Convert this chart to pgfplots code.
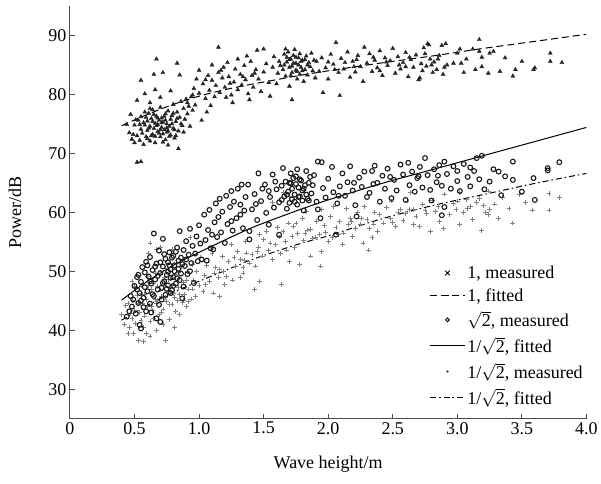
\documentclass[border=0pt]{standalone}
\usepackage{pgfplots}
\pgfplotsset{compat=1.18}
\usepackage{fontspec}
\setmainfont{Liberation Serif}
\newcommand{\fs}{\fontsize{18}{21}\selectfont}
\begin{document}
\begin{tikzpicture}
\begin{axis}[
  width=517pt, height=413pt, scale only axis,
  xmin=0, xmax=4, ymin=25, ymax=95,
  axis lines=left,
  axis line style={-, line width=1.1pt, black!70},
  xtick={0,0.5,1,1.5,2,2.5,3,3.5,4},
  xticklabels={0,0.5,1.0,1.5,2.0,2.5,3.0,3.5,4.0},
  ytick={30,40,50,60,70,80,90},
  tick align=inside,
  major tick length=5pt,
  tick style={line width=0.9pt, black!70},
  /pgf/number format/assume math mode=true,
  tick label style={font=\fs},
  label style={font=\fs},
  xlabel={Wave height/m},
  ylabel={Power/dB},
  xlabel style={at={(axis description cs:0.5,0)}, anchor=center, yshift=-46pt},
  ylabel style={at={(axis description cs:0,0.5)}, anchor=center, yshift=55pt},
  legend style={at={(0.69,0.38)}, anchor=north west, draw=none, fill=none, font=\fs, row sep=4.5pt},
  legend cell align=left,
  legend image code/.code={\draw[mark repeat=2, mark phase=2, #1] plot coordinates {(0pt,0pt) (17.5pt,0pt) (35pt,0pt)};},
]
% 1/sqrt2 measured (gray plus)
\addplot[only marks, mark=+, mark size=2.4pt, line width=0.8pt, black!50, forget plot] table {
0.40 42.6
0.42 41.0
0.43 44.2
0.45 39.4
0.46 40.4
0.47 42.8
0.48 48.3
0.48 45.0
0.49 39.4
0.50 47.4
0.50 43.4
0.51 41.2
0.52 45.9
0.53 38.3
0.54 43.0
0.55 47.6
0.55 41.7
0.56 44.6
0.57 38.1
0.58 46.1
0.58 42.4
0.59 39.4
0.60 44.0
0.60 49.2
0.61 53.1
0.62 54.8
0.62 41.5
0.63 46.9
0.64 43.3
0.65 48.0
0.66 45.2
0.67 39.9
0.67 44.6
0.67 53.7
0.68 47.4
0.69 42.6
0.70 54.0
0.70 49.6
0.71 45.8
0.72 43.6
0.73 47.9
0.74 38.2
0.74 50.5
0.75 44.9
0.76 46.7
0.77 41.8
0.78 48.7
0.79 53.7
0.79 44.3
0.80 46.2
0.81 40.4
0.82 49.4
0.83 45.1
0.84 47.3
0.85 42.6
0.86 50.8
0.87 44.7
0.88 48.1
0.89 46.0
0.90 44.0
0.91 49.9
0.92 47.0
0.93 55.7
0.94 45.3
0.95 51.2
0.96 48.5
0.97 45.7
0.98 50.0
1.00 47.6
1.01 52.4
1.03 46.6
1.04 49.3
1.06 51.0
1.08 48.2
1.10 53.0
1.11 46.3
1.13 50.6
1.15 48.9
1.16 45.7
1.16 50.3
1.18 52.5
1.20 47.8
1.21 49.1
1.23 51.6
1.25 54.5
1.26 48.5
1.28 50.8
1.30 53.4
1.32 52.0
1.32 48.9
1.34 49.7
1.34 50.6
1.36 55.1
1.37 53.1
1.39 51.4
1.41 52.8
1.43 46.9
1.44 50.9
1.46 54.1
1.47 48.3
1.47 56.2
1.49 52.6
1.50 55.4
1.52 56.8
1.54 53.5
1.57 52.0
1.57 61.6
1.59 54.6
1.61 57.4
1.63 53.0
1.64 47.7
1.65 56.8
1.65 63.3
1.67 55.0
1.69 58.2
1.70 51.7
1.70 62.7
1.72 55.9
1.73 57.6
1.74 54.0
1.76 56.4
1.78 51.1
1.80 58.9
1.81 55.2
1.83 60.2
1.84 57.0
1.86 52.6
1.86 57.1
1.88 55.6
1.91 58.5
1.93 56.3
1.94 50.9
1.95 53.4
1.95 60.5
1.97 57.7
2.00 55.0
2.02 59.3
2.03 55.7
2.04 61.0
2.06 57.4
2.09 58.5
2.11 54.6
2.12 56.5
2.14 60.7
2.16 57.9
2.17 59.0
2.19 55.9
2.21 57.3
2.23 60.0
2.25 58.0
2.27 54.8
2.28 61.0
2.30 58.8
2.31 53.6
2.32 57.2
2.34 55.7
2.36 59.9
2.38 56.8
2.40 59.6
2.43 58.2
2.45 60.8
2.48 59.0
2.49 61.9
2.52 57.6
2.54 60.0
2.56 60.5
2.58 58.6
2.61 61.9
2.63 60.5
2.64 63.3
2.66 57.9
2.66 60.5
2.68 59.3
2.71 57.6
2.73 61.3
2.76 59.8
2.79 56.8
2.81 62.0
2.83 60.2
2.86 58.4
2.89 57.3
2.90 63.1
2.94 59.6
2.97 61.5
2.99 60.5
3.02 57.9
3.02 63.3
3.05 59.9
3.07 62.2
3.08 60.7
3.12 58.8
3.15 61.6
3.17 62.3
3.19 56.9
3.22 60.0
3.24 59.6
3.24 63.6
3.25 60.5
3.29 61.4
3.32 58.9
3.35 62.5
3.40 60.6
3.43 58.2
3.48 63.0
3.53 61.7
3.58 60.4
3.71 60.4
3.71 63.2
3.79 62.5
0.53 44.6
0.55 46.2
0.57 40.4
0.59 45.2
0.61 47.6
0.63 44.0
0.65 42.0
0.66 49.6
0.68 45.0
0.70 46.8
0.71 43.0
0.73 49.0
0.74 45.6
0.76 48.6
0.77 44.4
0.79 47.6
0.81 45.6
0.82 43.2
0.84 49.8
0.85 46.0
0.88 45.0
0.90 48.4
0.92 44.8
0.95 47.0
0.72 41.0
0.62 39.0
0.48 42.0
0.45 44.6
1.05 47.8
1.12 49.7
1.19 50.0
1.27 52.3
1.35 51.8
1.45 53.3
1.55 54.8
1.62 55.8
1.68 53.6
1.75 58.2
1.82 56.4
1.90 55.8
1.98 56.6
2.08 56.2
2.18 58.4
2.26 59.0
2.35 58.0
2.50 58.3
2.60 59.8
2.75 60.4
2.85 61.0
3.00 61.9
3.10 61.0
3.20 61.2
};
% sqrt2 measured (open circles)
\addplot[only marks, mark=o, mark size=2.4pt, line width=1.1pt, black!90, forget plot] table {
0.44 42.3
0.46 43.2
0.47 45.8
0.48 44.0
0.49 45.2
0.50 47.5
0.51 42.8
0.52 49.0
0.53 49.4
0.53 44.6
0.54 46.3
0.54 40.9
0.55 40.3
0.55 48.2
0.56 50.7
0.57 45.5
0.58 47.3
0.59 43.2
0.59 51.6
0.60 46.6
0.61 49.1
0.62 44.5
0.62 52.4
0.63 47.9
0.64 50.2
0.65 45.8
0.65 56.4
0.66 48.6
0.67 42.0
0.67 51.3
0.68 46.9
0.69 53.5
0.70 41.4
0.70 49.7
0.71 47.2
0.72 55.5
0.72 50.8
0.73 48.3
0.74 52.1
0.74 46.0
0.75 49.4
0.76 51.5
0.76 47.6
0.77 53.2
0.78 48.9
0.78 50.3
0.79 46.8
0.80 52.6
0.80 49.0
0.81 51.0
0.82 47.9
0.83 54.0
0.84 50.4
0.85 56.8
0.85 48.5
0.86 52.3
0.87 45.4
0.88 53.6
0.89 50.9
0.90 55.1
0.91 49.5
0.92 52.8
0.93 57.2
0.94 51.4
0.95 54.3
0.96 48.0
0.97 53.0
0.98 55.9
0.99 51.7
1.00 57.8
1.01 54.7
1.02 52.0
1.04 59.6
1.05 55.3
1.06 51.8
1.07 57.0
1.08 60.4
1.09 53.9
1.11 53.7
1.12 58.3
1.13 61.5
1.14 55.8
1.15 59.2
1.16 62.3
1.17 56.6
1.18 60.1
1.20 54.8
1.21 62.8
1.22 58.0
1.24 60.9
1.25 63.6
1.26 56.9
1.27 61.8
1.29 59.0
1.30 64.0
1.32 61.3
1.32 59.6
1.33 64.7
1.34 57.3
1.36 62.6
1.38 64.7
1.39 56.8
1.39 55.4
1.41 60.5
1.43 63.1
1.45 58.7
1.46 66.6
1.48 61.9
1.49 64.0
1.51 64.7
1.52 59.9
1.54 57.9
1.55 62.6
1.57 66.4
1.58 60.8
1.60 63.9
1.62 56.2
1.62 61.7
1.64 64.5
1.65 67.5
1.66 62.7
1.67 65.2
1.68 60.6
1.69 63.5
1.70 61.6
1.71 64.9
1.72 62.2
1.73 65.8
1.74 63.0
1.75 66.1
1.76 61.3
1.77 64.2
1.78 62.7
1.79 65.4
1.80 63.7
1.81 60.3
1.82 64.6
1.83 67.0
1.84 62.3
1.85 65.0
1.87 63.2
1.89 66.3
1.91 61.8
1.92 68.6
1.92 60.5
1.94 59.0
1.95 68.5
1.96 64.1
1.98 62.5
2.00 65.7
2.03 67.7
2.04 63.4
2.06 56.2
2.07 61.5
2.09 64.4
2.11 66.6
2.13 62.8
2.15 65.1
2.17 67.8
2.19 63.7
2.21 61.2
2.22 59.3
2.24 65.9
2.26 64.3
2.28 66.9
2.30 62.6
2.32 63.3
2.34 67.0
2.36 67.9
2.38 65.0
2.40 61.8
2.42 66.2
2.44 64.0
2.46 67.4
2.49 62.4
2.51 65.5
2.53 63.7
2.56 68.1
2.58 66.4
2.60 62.1
2.62 68.4
2.63 64.6
2.65 66.9
2.67 63.5
2.69 65.8
2.71 67.7
2.73 64.2
2.75 69.2
2.77 66.3
2.79 63.8
2.80 62.0
2.82 67.3
2.84 65.1
2.86 68.0
2.88 59.5
2.88 64.5
2.90 68.6
2.90 60.9
2.92 66.5
2.95 64.0
2.97 67.8
3.00 65.3
3.02 63.6
3.05 68.2
3.08 66.0
3.10 64.4
3.13 67.0
3.15 69.2
3.17 65.6
3.19 69.6
3.21 63.9
3.25 65.2
3.28 67.3
3.32 66.9
3.34 62.9
3.37 66.1
3.43 68.6
3.43 65.5
3.50 63.5
3.59 65.8
3.60 62.1
3.70 67.5
3.70 67.1
3.79 68.5
0.62 48.3
0.64 46.1
0.66 50.8
0.68 49.2
0.70 51.5
0.71 45.2
0.72 48.0
0.73 52.9
0.75 47.0
0.76 49.9
0.77 51.0
0.78 46.3
0.79 52.3
0.80 47.5
0.81 50.0
0.82 53.3
0.83 48.8
0.84 51.8
0.86 49.6
0.87 51.2
0.88 47.4
0.90 52.0
0.58 49.8
0.60 51.0
0.57 43.9
0.63 43.0
0.69 44.3
0.52 46.9
0.55 45.0
0.93 50.0
1.68 63.0
1.70 65.0
1.72 64.0
1.74 61.8
1.75 64.8
1.77 62.6
1.78 65.6
1.80 62.0
1.81 64.0
1.83 63.0
1.85 62.0
1.86 66.0
1.71 66.6
1.76 67.3
1.64 62.1
1.88 64.6
1.59 65.2
1.54 63.6
1.25 58.5
1.35 60.3
1.44 61.4
1.10 56.2
2.08 62.8
2.20 65.0
2.35 64.8
2.48 66.0
2.70 66.1
2.85 66.2
3.00 67.0
3.10 67.6
};
% 1 measured (dark small triangles)
\addplot[only marks, mark=triangle*, mark size=2.3pt, black!85, forget plot] table {
0.46 73.5
0.48 72.4
0.50 74.8
0.50 71.8
0.52 73.0
0.53 75.6
0.54 72.2
0.55 74.1
0.55 76.2
0.56 73.4
0.57 71.5
0.58 74.8
0.58 77.0
0.59 72.8
0.60 75.5
0.60 73.9
0.61 76.8
0.62 72.1
0.62 74.6
0.63 75.9
0.64 73.2
0.64 77.4
0.65 74.2
0.66 75.1
0.66 71.8
0.67 76.3
0.68 73.7
0.68 74.9
0.69 75.6
0.70 72.8
0.70 77.8
0.71 74.4
0.71 76.0
0.72 73.3
0.72 75.3
0.73 74.0
0.74 76.7
0.74 72.3
0.75 75.0
0.75 73.6
0.76 77.2
0.76 71.4
0.77 74.6
0.78 75.8
0.78 73.1
0.79 76.4
0.80 74.2
0.80 78.3
0.81 72.6
0.82 75.4
0.83 77.0
0.84 73.8
0.84 70.8
0.85 76.1
0.86 78.8
0.87 74.7
0.88 77.6
0.89 75.8
0.90 79.2
0.91 76.7
0.92 78.0
0.93 74.6
0.94 79.6
0.95 77.3
0.52 68.5
0.55 68.6
0.52 79.0
0.55 82.4
0.58 80.1
0.65 83.4
0.66 80.8
0.67 86.0
0.72 83.7
0.83 85.3
0.85 83.3
0.62 78.6
0.70 79.5
0.78 80.6
0.47 76.6
0.44 74.9
0.96 81.0
0.98 82.6
1.00 80.2
1.00 84.1
1.02 75.6
1.03 81.8
1.05 79.3
1.06 77.0
1.07 83.2
1.08 80.7
1.10 82.4
1.10 85.0
1.12 79.6
1.13 81.5
1.15 88.0
1.15 83.7
1.16 80.3
1.18 82.8
1.19 84.6
1.20 81.2
1.22 85.4
1.23 83.0
1.25 79.9
1.26 78.6
1.27 82.1
1.28 84.3
1.30 80.8
1.30 86.0
1.32 83.4
1.33 81.6
1.35 84.9
1.36 82.5
1.38 80.1
1.39 79.1
1.40 85.6
1.41 83.2
1.42 81.2
1.44 84.2
1.45 87.5
1.46 82.6
1.48 80.5
1.50 87.7
1.50 83.8
1.52 85.2
1.54 82.0
1.55 79.7
1.57 84.6
1.58 86.4
1.60 81.8
1.61 83.6
1.62 85.6
1.65 84.2
1.66 86.8
1.67 83.1
1.68 85.5
1.69 87.2
1.70 81.4
1.70 84.6
1.71 86.0
1.72 79.1
1.72 83.7
1.73 85.3
1.74 87.6
1.75 84.1
1.75 86.3
1.76 82.6
1.77 85.0
1.78 83.4
1.78 86.9
1.79 84.6
1.80 85.8
1.81 82.2
1.82 84.2
1.83 86.5
1.84 83.3
1.85 85.4
1.87 87.0
1.88 84.0
1.90 82.8
1.91 85.6
1.93 83.9
1.95 86.2
1.96 80.3
1.98 84.5
2.00 82.6
2.02 86.8
2.04 85.1
2.06 88.8
2.08 83.7
2.09 79.8
2.10 86.1
2.12 84.3
2.15 87.2
2.17 82.9
2.19 85.6
2.21 83.8
2.23 86.6
2.25 84.7
2.27 82.2
2.28 88.0
2.30 85.3
2.32 86.9
2.34 83.9
2.36 85.8
2.38 84.5
2.40 87.4
2.42 83.2
2.44 86.2
2.46 84.9
2.48 85.7
2.50 87.8
2.52 83.6
2.54 86.4
2.56 84.3
2.58 85.4
2.60 87.1
2.62 83.0
2.64 85.9
2.66 84.6
2.68 86.7
2.70 82.5
2.71 82.8
2.72 85.2
2.74 87.9
2.76 84.8
2.77 88.6
2.78 88.4
2.79 86.0
2.81 83.7
2.82 85.5
2.84 84.2
2.86 86.6
2.88 88.3
2.89 83.4
2.91 88.6
2.92 85.0
2.97 85.3
3.00 87.0
3.02 87.7
3.03 85.3
3.05 83.7
3.07 86.0
3.12 87.7
3.14 84.2
3.17 89.3
3.17 87.3
3.19 86.3
3.19 84.7
3.24 83.6
3.25 87.0
3.28 87.3
3.33 83.9
3.37 86.2
3.43 83.1
3.45 84.2
3.50 85.6
3.59 84.2
3.60 84.5
3.72 87.0
3.72 85.6
3.81 85.4
0.57 75.2
0.59 76.1
0.61 74.3
0.63 73.0
0.65 76.6
0.67 74.7
0.69 73.4
0.71 75.2
0.73 76.3
0.75 74.3
0.77 72.9
0.79 75.0
0.81 74.0
0.83 75.9
0.60 72.5
0.66 72.9
0.72 71.9
0.54 74.9
0.62 77.6
0.68 76.0
0.74 75.6
0.80 76.8
0.86 75.0
0.49 73.2
0.51 75.7
0.88 73.6
0.91 78.6
0.95 79.9
0.97 78.2
0.64 75.4
0.70 74.0
0.76 73.8
0.82 73.0
1.66 85.0
1.68 86.3
1.70 85.9
1.72 84.8
1.73 86.6
1.75 85.3
1.77 86.2
1.79 85.6
1.80 84.0
1.82 85.9
1.84 85.0
1.71 83.2
1.76 83.9
1.86 84.7
1.63 84.9
1.67 87.7
1.89 85.8
1.05 82.5
1.17 84.1
1.24 81.9
1.34 83.0
1.43 83.6
1.37 86.5
1.09 78.1
1.21 79.5
2.05 84.2
2.13 85.4
2.22 85.9
2.35 86.3
2.45 85.5
2.55 85.0
2.63 86.3
2.73 84.0
2.80 85.0
2.85 86.0
2.90 84.6
2.75 86.9
2.60 84.7
2.40 84.0
2.20 84.7
2.00 85.5
};
% fitted lines
\addplot[black, line width=1pt, dash pattern=on 7pt off 4pt, forget plot, smooth] coordinates {
(0.4,74.7) (0.6,76.6) (0.8,78.3) (1.0,79.7) (1.2,80.8) (1.4,81.7) (1.6,82.5) (1.8,83.3) (2.0,84.0) (2.4,85.3) (2.8,86.5) (3.2,87.8) (3.6,89.0) (4.0,90.2)
};
\addplot[black, line width=1pt, forget plot, smooth] coordinates {
(0.4,45.1) (0.6,48.3) (0.8,51.0) (1.0,53.2) (1.2,55.3) (1.4,57.3) (1.6,59.0) (1.8,60.6) (2.0,62.1) (2.4,64.8) (2.8,67.2) (3.2,69.6) (3.6,72.0) (4.0,74.4)
};
\addplot[black, line width=1pt, dash pattern=on 6pt off 3pt on 1.5pt off 3pt, forget plot, smooth] coordinates {
(0.4,41.7) (0.6,44.2) (0.8,46.4) (1.0,48.3) (1.2,50.1) (1.4,51.9) (1.6,53.4) (1.8,54.8) (2.0,56.0) (2.4,58.8) (2.8,61.1) (3.2,63.0) (3.6,64.9) (4.0,66.6)
};
% legend
\addlegendimage{only marks, mark=x, mark size=3.2pt, line width=0.8pt, black}
\addlegendentry{1, measured}
\addlegendimage{black, line width=1pt, dash pattern=on 7pt off 4pt}
\addlegendentry{1, fitted}
\addlegendimage{only marks, mark=o, mark size=1.9pt, line width=0.9pt, black}
\addlegendentry{$\sqrt{\mbox{2}}$, measured}
\addlegendimage{black, line width=1pt}
\addlegendentry{1/$\sqrt{\mbox{2}}$, fitted}
\addlegendimage{only marks, mark=+, mark size=1.6pt, line width=0.6pt, black!60}
\addlegendentry{1/$\sqrt{\mbox{2}}$, measured}
\addlegendimage{black, line width=1pt, dash pattern=on 6pt off 3pt on 1.5pt off 3pt}
\addlegendentry{1/$\sqrt{\mbox{2}}$, fitted}
\end{axis}
\path ([yshift=6pt]current axis.north);
\path ([yshift=-65pt]current axis.south);
\path ([xshift=-70pt]current axis.west);
\path ([xshift=14pt]current axis.east);
\end{tikzpicture}
\end{document}
